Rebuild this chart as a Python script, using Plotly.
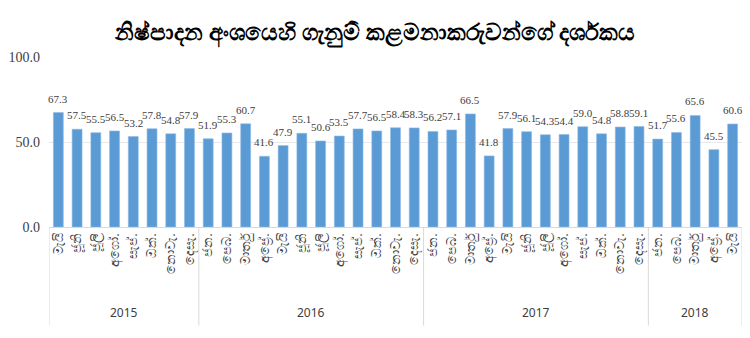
import plotly.graph_objects as go

title = "නිෂ්පාදන අංශයෙහි ගැනුම් කළමනාකරුවන්ගේ දර්ශකය"
months_all = ["ජන.", "පෙබ.", "මාර්තු", "අප්‍රේ.", "මැයි", "ජූනි", "ජූලි", "අගෝ.", "සැප්.", "ඔක්.", "නොවැ.", "දෙසැ."]
year_names = ["2015", "2016", "2017", "2018"]
year_counts = [8, 12, 12, 5]
months = months_all[4:] + months_all + months_all + months_all[:5]
values = [67.3, 57.5, 55.5, 56.5, 53.2, 57.8, 54.8, 57.9,
          51.9, 55.3, 60.7, 41.6, 47.9, 55.1, 50.6, 53.5, 57.7, 56.5, 58.4, 58.3,
          56.2, 57.1, 66.5, 41.8, 57.9, 56.1, 54.3, 54.4, 59.0, 54.8, 58.8, 59.1,
          51.7, 55.6, 65.6, 45.5, 60.6]
y_ticks = [0, 50, 100]
y_tick_labels = ["0.0", "50.0", "100.0"]

idx = list(range(len(values)))
fig = go.Figure(go.Bar(
    x=idx, y=values,
    marker=dict(color="#5B9BD5", line=dict(color="#8DBBE4", width=0.6)),
))

for i, v in zip(idx, values):
    fig.add_annotation(x=i, y=v, xref="x", yref="y", text=f"{v:.1f}", showarrow=False,
                       yanchor="bottom", yshift=6,
                       font=dict(family="Liberation Serif", size=11, color="#404040"))

# group dividers and year labels
div_bottom = -0.58
start = 0
bounds = [-0.5]
for name, cnt in zip(year_names, year_counts):
    mid = start + (cnt - 1) / 2
    fig.add_annotation(x=mid, xref="x", y=-0.5, yref="paper", text=name, showarrow=False,
                       yanchor="middle", font=dict(family="Noto Sans", size=12, color="#404040"))
    start += cnt
    bounds.append(start - 0.5)
for b in bounds:
    fig.add_shape(type="line", xref="x", yref="paper", x0=b, x1=b, y0=0, y1=div_bottom,
                  line=dict(color="#D9D9D9", width=1))

fig.update_layout(
    width=750, height=338,
    margin=dict(l=45, r=8, t=57, b=111),
    paper_bgcolor="white", plot_bgcolor="white",
    bargap=0.47,
    showlegend=False,
    title=dict(text="<b>" + title + "</b>", x=0.5, xanchor="center", y=0.905, yanchor="middle",
               font=dict(size=23, color="black", family="Noto Sans")),
    xaxis=dict(range=[-0.5, len(values) - 0.5], tickvals=idx, ticktext=months, tickangle=-90,
               showline=True, linecolor="#D9D9D9", showgrid=False, ticks="",
               tickfont=dict(size=13, color="#404040", family="Noto Sans")),
    yaxis=dict(range=[0, 100], tickvals=y_ticks, ticktext=y_tick_labels,
               showgrid=True, gridcolor="#E8E8E8", zeroline=False,
               showline=False, ticks="", ticklabelstandoff=8,
               tickfont=dict(family="Liberation Serif", size=14, color="#404040")),
)
fig.write_html("out.html")
